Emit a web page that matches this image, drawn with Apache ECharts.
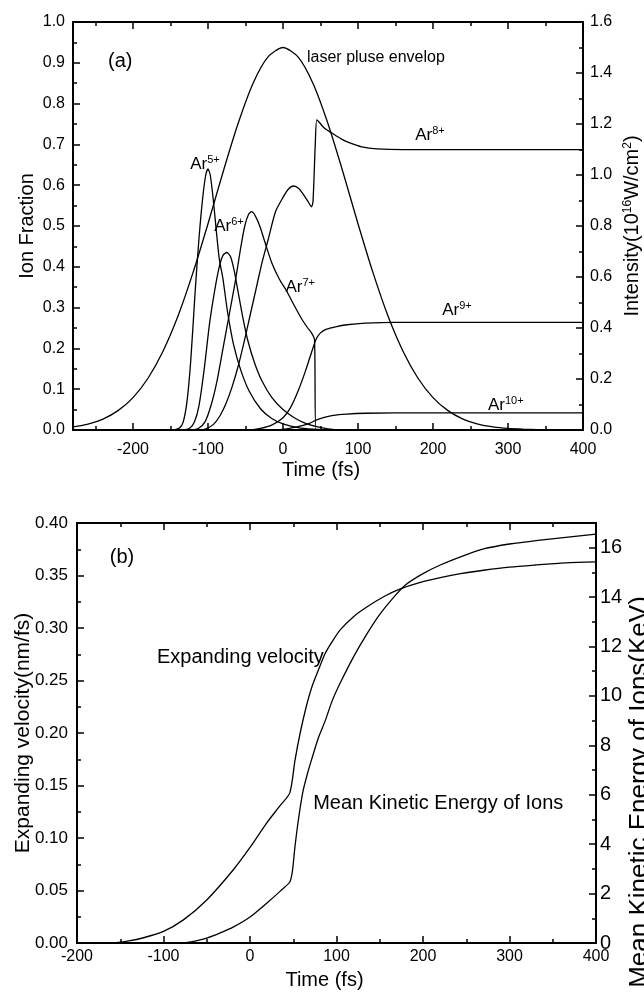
<!DOCTYPE html>
<html><head><meta charset="utf-8">
<script src="https://cdn.jsdelivr.net/npm/echarts@6/dist/echarts.min.js"></script>
<style>html,body{margin:0;padding:0;background:#fff}#c{width:644px;height:994px}</style>
</head><body><div id="c"></div>
<script>
// ---------- Panel (a) data ----------
const envTime = [-280,-260,-240,-220,-200,-180,-160,-140,-120,-100,-80,-60,-40,-20,0,20,40,60,80,100,120,140,160,180,200,220,240,260,280,300,320,340,360,380,400];
const envIntensity = [0.012,0.023,0.043,0.076,0.127,0.203,0.309,0.447,0.617,0.809,1.011,1.201,1.359,1.463,1.5,1.463,1.359,1.201,1.011,0.809,0.617,0.447,0.309,0.203,0.127,0.076,0.043,0.023,0.012,0.006,0.003,0.001,0,0,0];
const ar5 = [[-145,0],[-138,0.005],[-133,0.02],[-128,0.07],[-123,0.17],[-117,0.343],[-112,0.47],[-107,0.57],[-103,0.625],[-100,0.64],[-97,0.625],[-93,0.565],[-89,0.49],[-85,0.42],[-80,0.37],[-74,0.29],[-66,0.21],[-56,0.145],[-45,0.095],[-30,0.052],[-15,0.028],[0,0.015],[20,0.006],[40,0.002],[60,0],[400,0]];
const ar6 = [[-132,0],[-124,0.005],[-118,0.02],[-112,0.06],[-105,0.15],[-98,0.26],[-91,0.343],[-85,0.4],[-80,0.428],[-75,0.435],[-70,0.425],[-65,0.39],[-60,0.34],[-54,0.28],[-47,0.22],[-38,0.165],[-28,0.12],[-15,0.08],[0,0.05],[15,0.03],[30,0.016],[45,0.008],[60,0.003],[80,0],[400,0]];
const ar7 = [[-120,0],[-112,0.005],[-104,0.02],[-96,0.06],[-88,0.12],[-80,0.2],[-72,0.28],[-64,0.36],[-57,0.44],[-51,0.5],[-46,0.528],[-42,0.535],[-37,0.525],[-31,0.5],[-24,0.46],[-15,0.41],[-5,0.37],[5,0.34],[15,0.305],[25,0.272],[33,0.25],[38,0.238],[42,0.222],[44,0],[400,0]];
const ar8 = [[-108,0],[-100,0.005],[-92,0.015],[-84,0.035],[-76,0.065],[-68,0.105],[-60,0.155],[-52,0.215],[-44,0.28],[-36,0.345],[-28,0.41],[-20,0.465],[-10,0.535],[0,0.57],[7,0.59],[14,0.598],[21,0.592],[28,0.575],[34,0.558],[38,0.547],[40,0.56],[43,0.7],[45,0.76],[48,0.755],[55,0.74],[65,0.728],[78,0.713],[90,0.703],[105,0.694],[125,0.689],[160,0.687],[400,0.687]];
const ar9 = [[-45,0],[-30,0.004],[-15,0.012],[0,0.03],[10,0.055],[20,0.095],[30,0.145],[38,0.19],[44,0.222],[50,0.238],[58,0.247],[70,0.253],[85,0.258],[110,0.262],[150,0.264],[400,0.264]];
const ar10 = [[-10,0],[5,0.003],[20,0.008],[35,0.016],[45,0.025],[55,0.031],[67,0.036],[85,0.039],[110,0.041],[150,0.042],[400,0.042]];
// ---------- Panel (b) data ----------
const velocity = [[-200,0],[-160,0],[-140,0.002],[-123,0.005],[-100,0.011],[-77,0.022],[-50,0.041],[-19,0.07],[0,0.091],[19,0.114],[35,0.131],[46,0.143],[52,0.174],[58,0.2],[65,0.225],[72,0.245],[80,0.262],[87,0.276],[95,0.287],[104,0.298],[120,0.311],[135,0.32],[155,0.33],[173,0.337],[195,0.343],[220,0.348],[245,0.352],[270,0.355],[300,0.358],[330,0.36],[365,0.362],[400,0.363]];
const energy = [[-200,0],[-81,0],[-65,0.07],[-50,0.2],[-35,0.4],[-19,0.65],[0,1.05],[19,1.6],[35,2.1],[46,2.47],[49,2.9],[52,3.9],[56,5.0],[61,6.1],[66,6.8],[71,7.4],[79,8.3],[87,9.0],[95,9.8],[104,10.5],[120,11.6],[135,12.5],[150,13.3],[165,13.95],[180,14.5],[200,14.95],[220,15.3],[245,15.65],[270,15.95],[300,16.15],[333,16.3],[365,16.42],[400,16.55]];
// ---------- tick values ----------
const timeTicksA = [-200,-100,0,100,200,300,400];
const timeMinorA = [-250,-200,-150,-100,-50,0,50,100,150,200,250,300,350,400];
// ---------- annotations ----------
const notesA = [
  {pos:[-217,0.902], text:'(a)', align:'center', size:20},
  {pos:[32,0.912], text:'laser pluse envelop', align:'left', size:16},
  {pos:[196,0.722], text:'Ar{sup|8+}', align:'center', size:17},
  {pos:[-104,0.652], text:'Ar{sup|5+}', align:'center', size:17},
  {pos:[-72,0.5], text:'Ar{sup|6+}', align:'center', size:17},
  {pos:[23,0.35], text:'Ar{sup|7+}', align:'center', size:17},
  {pos:[232,0.294], text:'Ar{sup|9+}', align:'center', size:17},
  {pos:[297,0.061], text:'Ar{sup|10+}', align:'center', size:17}
];
const notesB = [
  {pos:[-148,0.367], text:'(b)', align:'center', size:20},
  {pos:[-107.5,0.272], text:'Expanding velocity', align:'left', size:20},
  {pos:[73,0.133], text:'Mean Kinetic Energy of Ions', align:'left', size:20}
];

const FONT = '"Liberation Sans", Arial, sans-serif';
const chart = echarts.init(document.getElementById('c'));

function tickStyle(major, custom) {
  const t = {show:true, inside:true, length:major?7:4, lineStyle:{color:'#000', width:1.5}};
  if (custom) t.customValues = custom;
  return t;
}
function xAx(grid, position, min, max, interval, major, label, extra) {
  return Object.assign({
    type:'value', gridIndex:grid, position, min, max, interval,
    axisLine:{show:major, onZero:false, lineStyle:{color:'#000', width:2}},
    axisTick:tickStyle(major),
    axisLabel:label ? Object.assign({show:true, color:'#000', fontFamily:FONT, fontSize:16}, label) : {show:false},
    splitLine:{show:false}
  }, extra || {});
}
function yAx(grid, position, min, max, interval, major, label, extra) {
  return Object.assign({
    type:'value', gridIndex:grid, position, min, max, interval, nameMoveOverlap:false,
    axisLine:{show:major, onZero:false, lineStyle:{color:'#000', width:2}},
    axisTick:tickStyle(major),
    axisLabel:label ? Object.assign({show:true, color:'#000', fontFamily:FONT, fontSize:16}, label) : {show:false},
    splitLine:{show:false}
  }, extra || {});
}
function nameStyle(size, padding) {
  return {color:'#000', fontFamily:FONT, fontSize:size, padding:padding || 0,
    rich:{sup:{fontSize:Math.round(size*0.62), fontFamily:FONT, color:'#000', verticalAlign:'top', padding:[0,0,9,0]},
          n:{fontSize:size, fontFamily:FONT, color:'#000'}}};
}

function noteSeries(xi, yi, notes) {
  return {
    type:'scatter', xAxisIndex:xi, yAxisIndex:yi, symbolSize:0, silent:true, z:10,
    itemStyle:{opacity:1},
    data:notes.map(n => ({value:n.pos, label:{show:true, position:'inside', formatter:n.text,
      align:n.align, fontSize:n.size, fontFamily:FONT, color:'#000', opacity:1,
      rich:{sup:{fontSize:11, fontFamily:FONT, color:'#000', verticalAlign:'top', padding:[0,0,8,0]}}}}))
  };
}
function line(xi, yi, data) {
  return {type:'line', xAxisIndex:xi, yAxisIndex:yi, data, showSymbol:false, symbol:'none',
    smooth:0.25, lineStyle:{color:'#000', width:1.3}, silent:true};
}

const option = {
  animation:false,
  backgroundColor:'#fff',
  grid:[
    {left:73, right:61, top:22, height:408, containLabel:false, outerBoundsMode:'none'},
    {left:77, right:48, top:523, height:420, containLabel:false, outerBoundsMode:'none'}
  ],
  xAxis:[
    xAx(0,'bottom',-280,400,100,true,{margin:12, customValues:timeTicksA},
      {axisTick:tickStyle(true,timeTicksA), name:'Time (fs)', nameLocation:'middle', nameGap:30, nameTextStyle:nameStyle(20,[0,14,0,0])}),
    xAx(0,'bottom',-280,400,50,false,null,{axisTick:tickStyle(false,timeMinorA)}),
    xAx(0,'top',-280,400,100,true,null,{axisTick:tickStyle(true,timeTicksA)}),
    xAx(0,'top',-280,400,50,false,null,{axisTick:tickStyle(false,timeMinorA)}),
    xAx(1,'bottom',-200,400,100,true,{margin:6},
      {name:'Time (fs)', nameLocation:'middle', nameGap:27, nameTextStyle:nameStyle(20,[0,24,0,0])}),
    xAx(1,'bottom',-200,400,50,false,null),
    xAx(1,'top',-200,400,100,true,null),
    xAx(1,'top',-200,400,50,false,null)
  ],
  yAxis:[
    yAx(0,'left',0,1,0.1,true,{margin:8, formatter:v=>v.toFixed(1)},
      {name:'Ion Fraction', nameLocation:'middle', nameGap:36, nameTextStyle:nameStyle(20)}),
    yAx(0,'left',0,1,0.05,false,null),
    yAx(0,'right',0,1.6,0.2,true,{margin:7, formatter:v=>v.toFixed(1)},
      {name:'{n|Intensity(10}{sup|16}{n|W/cm}{sup|2}{n|)}', nameLocation:'middle', nameGap:39, nameTextStyle:nameStyle(20)}),
    yAx(0,'right',0,1.6,0.1,false,null),
    yAx(1,'left',0,0.4,0.05,true,{margin:9, fontSize:17, formatter:v=>v.toFixed(2)},
      {name:'Expanding velocity(nm/fs)', nameLocation:'middle', nameGap:43, nameTextStyle:nameStyle(21)}),
    yAx(1,'left',0,0.4,0.025,false,null),
    yAx(1,'right',0,17,2,true,{margin:4, fontSize:20, formatter:v=>(v>16.5?'':String(v))},
      {name:'Mean Kinetic Energy of Ions(KeV)', nameLocation:'middle', nameGap:31, nameTextStyle:nameStyle(26,[0,118,0,0])}),
    yAx(1,'right',0,17,1,false,null)
  ],
  series:[
    line(0,2,envTime.map((t,i)=>[t,envIntensity[i]])),
    line(0,0,ar5), line(0,0,ar6), line(0,0,ar7), line(0,0,ar8), line(0,0,ar9), line(0,0,ar10),
    noteSeries(0,0,notesA),
    line(4,4,velocity),
    line(4,6,energy),
    noteSeries(4,4,notesB)
  ]
};
chart.setOption(option);
</script></body></html>
